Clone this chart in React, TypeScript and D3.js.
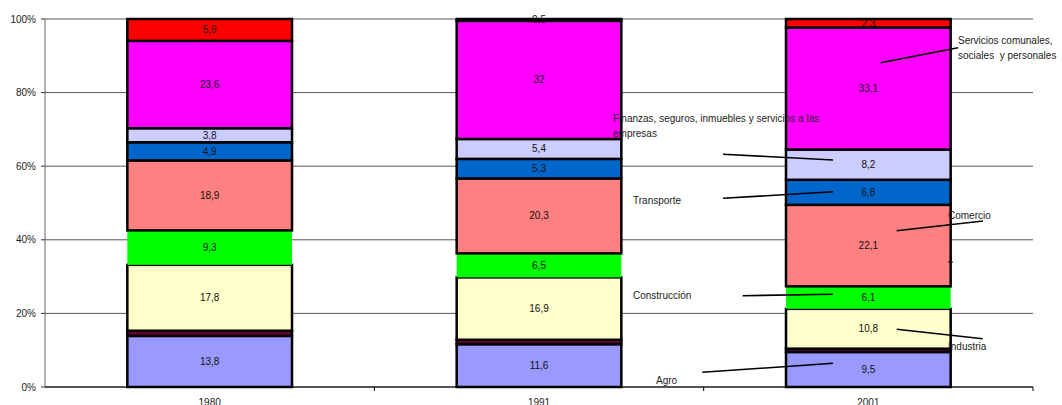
import React from 'react';
import * as d3 from 'd3';

// ---- data ----
const years = ['1980', '1991', '2001'];
const sectorNames = [
  'Agro',
  'Minería, electricidad, gas y agua',
  'Industria',
  'Construcción',
  'Comercio',
  'Transporte',
  'Finanzas, seguros, inmuebles y servicios a las empresas',
  'Servicios comunales, sociales y personales',
  'Otros',
];
const agro = [13.8, 11.6, 9.5];
const mineria = [1.4, 1.2, 0.9];
const industria = [17.8, 16.9, 10.8];
const construccion = [9.3, 6.5, 6.1];
const comercio = [18.9, 20.3, 22.1];
const transporte = [4.9, 5.3, 6.8];
const finanzas = [3.8, 5.4, 8.2];
const servicios = [23.6, 32, 33.1];
const otros = [5.9, 0.5, 2.3];
const showLabel = [true, false, true, true, true, true, true, true, true];
const yTicks = [0, 0.2, 0.4, 0.6, 0.8, 1];

// ---- styles ----
const colors = ['#9999FF', '#660033', '#FFFFCC', '#00FF00', '#FF8080', '#0066CC', '#CCCCFF', '#FF00FF', '#FF0000'];
const stroked = [true, true, true, false, true, true, true, true, true];
const FONT = 'Arial, "Liberation Sans", sans-serif';

const W = 1062, H = 405;
const left = 45, right = 1033, top = 19, bottom = 387;

const annotations = [
  { lines: ['Servicios comunales,', 'sociales  y personales'], tx: 958, ty: 44, l: [880.7, 62.7, 958, 47.7] },
  { lines: ['Finanzas, seguros, inmuebles y servicios a las', 'empresas'], tx: 613, ty: 122, l: [723, 154.3, 833, 160] },
  { lines: ['Transporte'], tx: 633, ty: 204, l: [723, 198.3, 833, 191.7] },
  { lines: ['Comercio'], tx: 948, ty: 219, l: [896.7, 230.7, 983, 221] },
  { lines: ['Construcción'], tx: 633, ty: 299, l: [742.7, 295.7, 833, 294.3] },
  { lines: ['Industria'], tx: 948, ty: 350, l: [896.7, 329.3, 982.7, 338.7] },
  { lines: ['Agro'], tx: 656, ty: 384, l: [702.3, 372.3, 833, 363.3] },
];

export default function App() {
  const series = [agro, mineria, industria, construccion, comercio, transporte, finanzas, servicios, otros];
  const table = years.map((y, i) => {
    const row: any = { year: y };
    sectorNames.forEach((s, k) => (row[s] = series[k][i]));
    return row;
  });
  const stack = d3.stack().keys(sectorNames).offset(d3.stackOffsetExpand);
  const stacked = stack(table);

  const x = d3.scaleBand().domain(years).range([left, right]).paddingInner(0.5).paddingOuter(0.25);
  const y = d3.scaleLinear().domain([0, 1]).range([bottom, top]);
  const step = x.step();
  const fmt = (v: number) => String(v).replace('.', ',');

  return (
    <svg width={W} height={H} style={{ position: 'absolute', left: 0, top: 0, background: '#fff' }} fontFamily={FONT}>
      {/* gridlines */}
      {yTicks.map((t) => (
        <line key={'g' + t} x1={left} x2={right} y1={y(t)} y2={y(t)} stroke="#555" strokeWidth={1} />
      ))}
      {/* y axis */}
      <line x1={left} x2={left} y1={top} y2={bottom} stroke="#666" strokeWidth={1} />
      {yTicks.map((t) => (
        <g key={'t' + t}>
          <line x1={left - 4} x2={left} y1={y(t)} y2={y(t)} stroke="#333" />
          <text x={36} y={y(t)} dy="0.35em" textAnchor="end" fontSize={10} fill="#222">
            {Math.round(t * 100) + '%'}
          </text>
        </g>
      ))}
      {/* bars */}
      {stacked.map((layer, k) => (
        <g key={'s' + k}>
          {layer.map((d, i) => (
            <rect
              key={i}
              x={x(years[i])!}
              width={x.bandwidth()}
              y={y(d[1])}
              height={y(d[0]) - y(d[1])}
              fill={colors[k]}
              stroke={stroked[k] ? '#000' : 'none'}
              strokeWidth={2.5}
            />
          ))}
        </g>
      ))}
      {/* data labels */}
      {stacked.map((layer, k) =>
        showLabel[k]
          ? layer.map((d, i) => (
              <text
                key={'l' + k + i}
                x={x(years[i])! + x.bandwidth() / 2}
                y={(y(d[0]) + y(d[1])) / 2}
                dy="0.35em"
                textAnchor="middle"
                fontSize={10}
                fill="#111"
              >
                {fmt(series[k][i])}
              </text>
            ))
          : null
      )}
      {/* x axis */}
      <line x1={left} x2={right} y1={bottom} y2={bottom} stroke="#000" strokeWidth={1} />
      {years.map((yr, i) => (
        <g key={'x' + yr}>
          <line x1={left + step * (i + 1)} x2={left + step * (i + 1)} y1={bottom} y2={bottom + 4} stroke="#000" />
          <text x={x(yr)! + x.bandwidth() / 2} y={406} textAnchor="middle" fontSize={10} fill="#222">
            {yr}
          </text>
        </g>
      ))}
      {/* annotations */}
      {annotations.map((a, i) => (
        <g key={'a' + i}>
          <line x1={a.l[0]} y1={a.l[1]} x2={a.l[2]} y2={a.l[3]} stroke="#000" strokeWidth={1.6} />
          {a.lines.map((ln, j) => (
            <text key={j} x={a.tx} y={a.ty + j * 15} fontSize={10} fill="#222" style={{ whiteSpace: 'pre' }}>
              {ln}
            </text>
          ))}
        </g>
      ))}
      <line x1={948} x2={953} y1={262} y2={262} stroke="#000" strokeWidth={1} />
    </svg>
  );
}
